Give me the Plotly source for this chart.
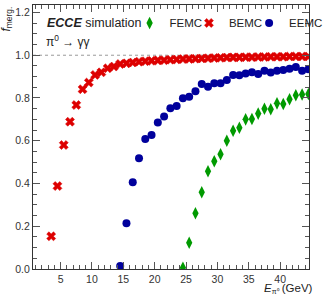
import plotly.graph_objects as go

# ---- data ----
bemc_x = [3.5 + i for i in range(42)]
bemc_y = [0.153, 0.388, 0.580, 0.689, 0.767, 0.841, 0.872, 0.908, 0.920, 0.939,
          0.947, 0.959, 0.962, 0.966, 0.970, 0.972, 0.974, 0.976, 0.977, 0.979,
          0.980, 0.982, 0.983, 0.984, 0.985, 0.986, 0.987, 0.988, 0.989, 0.990,
          0.990, 0.991, 0.991, 0.992, 0.992, 0.993, 0.993, 0.993, 0.994, 0.994,
          0.994, 0.994]

eemc_x = [14.5 + i for i in range(31)]
eemc_y = [0.014, 0.214, 0.406, 0.518, 0.608, 0.627, 0.685, 0.713, 0.752, 0.763,
          0.799, 0.806, 0.832, 0.866, 0.853, 0.869, 0.869, 0.884, 0.908, 0.906,
          0.914, 0.920, 0.912, 0.928, 0.919, 0.928, 0.931, 0.937, 0.945, 0.928,
          0.935]

femc_x = [24.5 + i for i in range(21)]
femc_y = [0.006, 0.123, 0.261, 0.359, 0.457, 0.504, 0.537, 0.600, 0.647, 0.661,
          0.700, 0.702, 0.727, 0.750, 0.747, 0.775, 0.772, 0.794, 0.813, 0.816,
          0.819]

RED = "#dd0000"
BLUE = "#00009c"
GREEN = "#009a00"
FONT = "Liberation Sans, Arial, sans-serif"

fig = go.Figure()
fig.add_trace(go.Scatter(x=femc_x, y=femc_y, mode="markers", name="FEMC",
                         marker=dict(symbol="diamond-tall", size=9, color=GREEN),
                         legend="legend"))
fig.add_trace(go.Scatter(x=bemc_x, y=bemc_y, mode="markers", name="BEMC",
                         marker=dict(symbol="x", size=8, color=RED,
                                     line=dict(width=0.5, color=RED)),
                         legend="legend2"))
fig.add_trace(go.Scatter(x=eemc_x, y=eemc_y, mode="markers", name="EEMC",
                         marker=dict(symbol="circle", size=8, color=BLUE),
                         legend="legend3"))

fig.add_hline(y=1.0, line=dict(color="#999999", width=1, dash="dot"), layer="below")

axis_common = dict(
    showgrid=False, zeroline=False, showline=True, linecolor="#333333", linewidth=1,
    mirror="ticks", ticks="inside", ticklen=7, tickcolor="#555555", tickwidth=1,
    tickfont=dict(family=FONT, size=10.5, color="#333333"),
)

fig.update_xaxes(range=[0.6, 44.6], dtick=5, tick0=0,
                 minor=dict(dtick=1, ticks="inside", ticklen=4, tickcolor="#555555"),
                 **axis_common)
fig.update_yaxes(range=[0, 1.235], dtick=0.2, tick0=0, tickformat=".1f",
                 minor=dict(dtick=0.05, ticks="inside", ticklen=4, tickcolor="#555555"),
                 **axis_common)

leg_common = dict(orientation="h", bgcolor="rgba(0,0,0,0)", yanchor="middle",
                  xanchor="left", itemwidth=30, entrywidth=0, borderwidth=0,
                  font=dict(family=FONT, size=11.5, color="#222222"))
fig.update_layout(
    width=332, height=298,
    margin=dict(l=33, r=4, t=5, b=29),
    plot_bgcolor="white", paper_bgcolor="white",
    showlegend=True,
    legend=dict(x=0.350, y=0.932, **leg_common),
    legend2=dict(x=0.565, y=0.932, **leg_common),
    legend3=dict(x=0.783, y=0.932, **leg_common),
)

fig.add_annotation(xref="paper", yref="paper", x=0.045, y=0.932, xanchor="left",
                   yanchor="middle", showarrow=False,
                   text="<b><i>ECCE</i></b> simulation",
                   font=dict(family=FONT, size=12.5, color="#222222"))
fig.add_annotation(xref="paper", yref="paper", x=0.04, y=0.865, xanchor="left",
                   yanchor="middle", showarrow=False,
                   text="π<sup>0</sup> → γγ",
                   font=dict(family=FONT, size=12, color="#222222"))
fig.add_annotation(xref="paper", yref="paper", x=0, y=1, xanchor="right",
                   yanchor="top", xshift=-17, showarrow=False, textangle=-90,
                   text="<i>f</i><sub>merg.</sub>",
                   font=dict(family=FONT, size=12, color="#222222"))
fig.add_annotation(xref="paper", yref="paper", x=1, y=0, xanchor="right",
                   yanchor="top", yshift=-11, xshift=6, showarrow=False,
                   text="<i>E</i><sub><span style='font-size:7px'>π⁰</span></sub> (GeV)",
                   font=dict(family=FONT, size=11.5, color="#222222"))

fig.write_html("out.html", config={"displayModeBar": False},
               post_script="document.body.style.margin='0';document.body.style.overflow='hidden';")
